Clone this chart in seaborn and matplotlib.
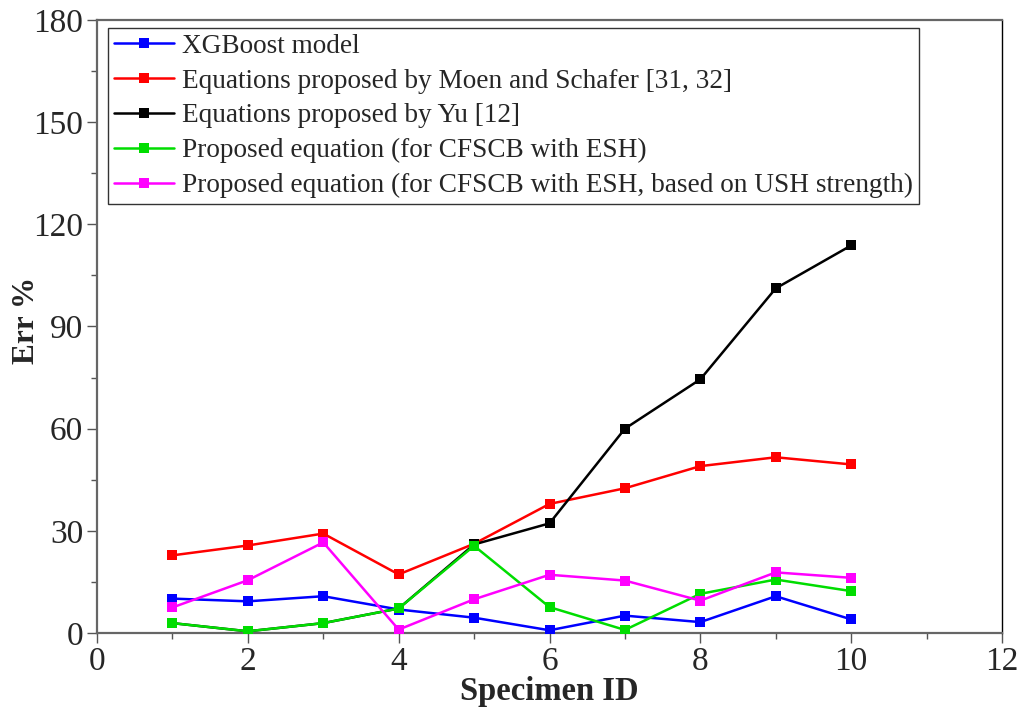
import numpy as np
import pandas as pd
import matplotlib
matplotlib.use("Agg")
import matplotlib.pyplot as plt
from matplotlib.ticker import MultipleLocator
import seaborn as sns

# Specimen IDs and error percentages for each prediction approach
specimen_id = [1, 2, 3, 4, 5, 6, 7, 8, 9, 10]
err_xgboost = [10.1, 9.3, 10.8, 6.9, 4.5, 0.8, 5.1, 3.2, 10.8, 4.0]
err_moen_schafer = [22.8, 25.7, 29.2, 17.2, 26.2, 37.9, 42.5, 49.0, 51.6, 49.5]
err_yu = [2.9, 0.5, 2.9, 7.2, 26.0, 32.2, 60.0, 74.5, 101.2, 113.8]
err_proposed = [2.9, 0.5, 2.9, 7.2, 25.6, 7.6, 0.9, 11.5, 15.7, 12.3]
err_proposed_ush = [7.5, 15.5, 26.6, 1.0, 9.9, 17.1, 15.4, 9.5, 17.8, 16.2]

series_names = [
    "XGBoost model",
    "Equations proposed by Moen and Schafer [31, 32]",
    "Equations proposed by Yu [12]",
    "Proposed equation (for CFSCB with ESH)",
    "Proposed equation (for CFSCB with ESH, based on USH strength)",
]
series_values = [err_xgboost, err_moen_schafer, err_yu, err_proposed, err_proposed_ush]
series_colors = ["#0000ff", "#ff0000", "#000000", "#00dd00", "#ff00ff"]

df = pd.concat(
    [pd.DataFrame({"Specimen ID": specimen_id, "Err %": vals, "Series": name})
     for name, vals in zip(series_names, series_values)],
    ignore_index=True,
)

sns.set_theme(style="white")
plt.rcParams["font.family"] = ["Liberation Serif", "DejaVu Serif"]

fig = plt.figure(figsize=(10.21, 7.10), dpi=100)
ax = fig.add_axes([97 / 1021, 1 - 633 / 710, (1002 - 97) / 1021, (633 - 20) / 710])

# Draw in an order so the black line sits on top of the green one
draw_order = [3, 4, 0, 1, 2]
for i in draw_order:
    sub = df[df["Series"] == series_names[i]]
    sns.lineplot(
        data=sub, x="Specimen ID", y="Err %", color=series_colors[i],
        marker="s", markersize=9, markeredgecolor="#dddddd", markeredgewidth=0.6,
        linewidth=1.8, ax=ax, label=series_names[i], zorder=3 + i,
    )

ax.set_xlim(0, 12)
ax.set_ylim(0, 180)
ax.xaxis.set_major_locator(MultipleLocator(2))
ax.xaxis.set_minor_locator(MultipleLocator(1))
ax.yaxis.set_major_locator(MultipleLocator(30))
ax.yaxis.set_minor_locator(MultipleLocator(15))

ax.tick_params(axis="both", which="major", direction="out", length=7, width=1.0,
               color="#555555", labelsize=24, bottom=True, left=True, top=False, right=False,
               pad=3)
ax.tick_params(axis="both", which="minor", direction="out", length=4, width=1.0,
               color="#555555", bottom=True, left=True, top=False, right=False)

for side in ["left", "bottom", "top"]:
    ax.spines[side].set_color("#666666")
    ax.spines[side].set_linewidth(1.6)
ax.spines["right"].set_color("#000000")
ax.spines["right"].set_linewidth(1.0)

ax.set_xlabel("Specimen ID", fontsize=23.5, fontweight="bold")
ax.set_ylabel("Err %", fontsize=22.5, fontweight="bold")
ax.xaxis.set_label_coords(0.5, -0.096)
ax.yaxis.set_label_coords(-0.078, 0.51)
ax.xaxis.label.set_va("center")
ax.yaxis.label.set_va("center")

# Legend in the original series order
handles, labels = ax.get_legend_handles_labels()
lookup = dict(zip(labels, handles))
for h in handles:
    h.set_markersize(7)
    h.set_markeredgewidth(0)
leg = ax.legend(
    [lookup[n] for n in series_names], series_names,
    loc="upper left", bbox_to_anchor=(0.012, 0.987), fontsize=19.6,
    frameon=True, fancybox=False, edgecolor="#333333", framealpha=1,
    handlelength=2.2, handletextpad=0.3, labelspacing=0.355, borderpad=0.22,
    borderaxespad=0.0,
)
leg.get_frame().set_linewidth(1.0)

fig.savefig("out.png", dpi=100)
